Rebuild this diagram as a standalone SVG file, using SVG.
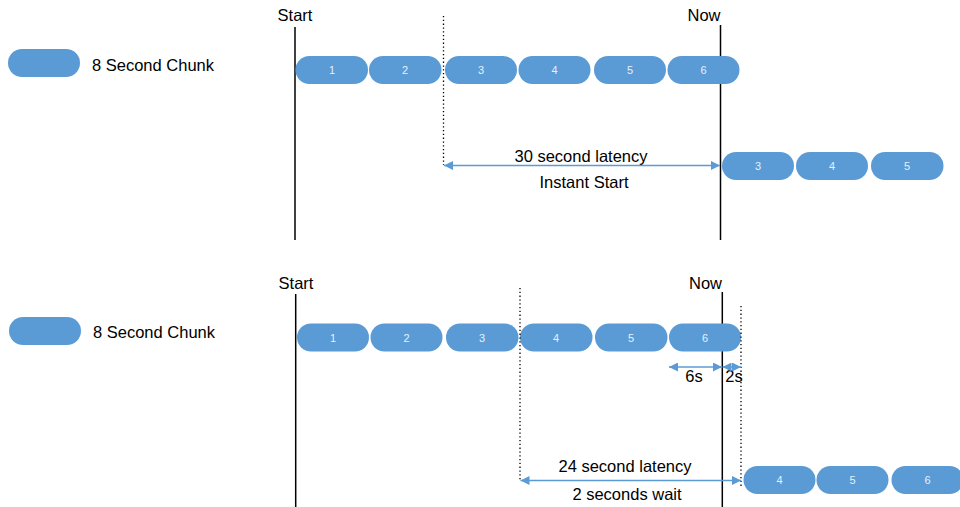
<svg xmlns="http://www.w3.org/2000/svg" width="960" height="507" viewBox="0 0 960 507">
<defs>
<marker id="ah" viewBox="0 0 10 10" refX="10" refY="5" markerWidth="6" markerHeight="6" orient="auto-start-reverse" markerUnits="strokeWidth">
<path d="M0,0 L10,5 L0,10 z" fill="#5B9BD5"/>
</marker>
<style>
.chunk{fill:#5B9BD5}
.num{font-family:"Liberation Sans",Arial,sans-serif;font-size:11px;fill:#E6F0FA;text-anchor:middle}
.lbl{font-family:"Liberation Sans",Arial,sans-serif;font-size:16.5px;fill:#000}
.mid{text-anchor:middle}
.solid{stroke:#000;stroke-width:1.5;fill:none}
.dot{stroke:#000;stroke-width:1.3;stroke-dasharray:1.3,2.5;fill:none}
.arr{stroke:#5B9BD5;stroke-width:1.5;fill:none;marker-start:url(#ah);marker-end:url(#ah)}
</style>
</defs>
<rect width="960" height="507" fill="#fff"/>

<!-- Top scenario -->
<g id="legend1">
<rect class="chunk" x="8" y="49" width="72" height="28" rx="14"/>
<text class="lbl" x="92" y="71">8 Second Chunk</text>
</g>
<g id="start1"><line class="solid" x1="295" y1="27" x2="295" y2="240"/><text class="lbl mid" x="295" y="21">Start</text></g>
<g id="now1"><line class="solid" x1="720.5" y1="25" x2="720.5" y2="240"/><text class="lbl mid" x="704" y="21">Now</text></g>
<g id="t1c1"><rect class="chunk" x="295.5" y="56" width="72.5" height="28" rx="14"/><text class="num" x="332" y="74">1</text></g>
<g id="t1c2"><rect class="chunk" x="369" y="56" width="72.5" height="28" rx="14"/><text class="num" x="405" y="74">2</text></g>
<g id="t1c3"><rect class="chunk" x="445" y="56" width="72" height="28" rx="14"/><text class="num" x="481" y="74">3</text></g>
<g id="t1c4"><rect class="chunk" x="518.5" y="56" width="72" height="28" rx="14"/><text class="num" x="554.5" y="74">4</text></g>
<g id="t1c5"><rect class="chunk" x="594" y="56" width="72" height="28" rx="14"/><text class="num" x="630" y="74">5</text></g>
<g id="t1c6"><rect class="chunk" x="667.5" y="56" width="72" height="28" rx="14"/><text class="num" x="703.5" y="74">6</text></g>
<g id="t1p3"><rect class="chunk" x="722" y="152" width="72" height="28" rx="14"/><text class="num" x="758" y="170">3</text></g>
<g id="t1p4"><rect class="chunk" x="796" y="152" width="72" height="28" rx="14"/><text class="num" x="832" y="170">4</text></g>
<g id="t1p5"><rect class="chunk" x="871" y="152" width="72.5" height="28" rx="14"/><text class="num" x="907" y="170">5</text></g>
<g id="t1labels">
<text class="lbl mid" x="581" y="162">30 second latency</text>
<text class="lbl mid" x="584" y="188">Instant Start</text>
</g>

<!-- Bottom scenario -->
<g id="legend2">
<rect class="chunk" x="9" y="317" width="72" height="28" rx="14"/>
<text class="lbl" x="93" y="338">8 Second Chunk</text>
</g>
<g id="start2"><line class="solid" x1="295.7" y1="294" x2="295.7" y2="507"/><text class="lbl mid" x="296" y="289">Start</text></g>
<g id="now2"><line class="solid" x1="722.3" y1="292" x2="722.3" y2="507"/><text class="lbl mid" x="705.5" y="289">Now</text></g>
<g id="b1c1"><rect class="chunk" x="297" y="323.5" width="72" height="28" rx="14"/><text class="num" x="333" y="341.5">1</text></g>
<g id="b1c2"><rect class="chunk" x="370.5" y="323.5" width="72" height="28" rx="14"/><text class="num" x="406.5" y="341.5">2</text></g>
<g id="b1c3"><rect class="chunk" x="446" y="323.5" width="72.5" height="28" rx="14"/><text class="num" x="482" y="341.5">3</text></g>
<g id="b1c4"><rect class="chunk" x="520" y="323.5" width="72.5" height="28" rx="14"/><text class="num" x="556" y="341.5">4</text></g>
<g id="b1c5"><rect class="chunk" x="595" y="323.5" width="72.5" height="28" rx="14"/><text class="num" x="631" y="341.5">5</text></g>
<g id="b1c6"><rect class="chunk" x="669" y="323.5" width="72" height="28" rx="14"/><text class="num" x="705" y="341.5">6</text></g>
<g id="b1p4"><rect class="chunk" x="743.5" y="466" width="72" height="28" rx="14"/><text class="num" x="779.5" y="484">4</text></g>
<g id="b1p5"><rect class="chunk" x="816.5" y="466" width="72" height="28" rx="14"/><text class="num" x="852.5" y="484">5</text></g>
<g id="b1p6"><rect class="chunk" x="891.5" y="466" width="72" height="28" rx="14"/><text class="num" x="927.5" y="484">6</text></g>
<g id="b1labels">
<text class="lbl mid" x="694" y="382">6s</text>
<text class="lbl mid" x="734" y="382">2s</text>
<text class="lbl mid" x="625" y="472">24 second latency</text>
<text class="lbl mid" x="627" y="500">2 seconds wait</text>
</g>

<g id="connectors">
<line class="dot" x1="443.5" y1="16" x2="443.5" y2="165"/>
<line class="arr" x1="444" y1="165.5" x2="720" y2="165.5"/>
<line class="dot" x1="520" y1="288" x2="520" y2="481"/>
<line class="dot" x1="741" y1="306" x2="741" y2="487"/>
<line class="arr" x1="669" y1="367" x2="722" y2="367"/>
<line class="arr" x1="722.5" y1="367" x2="741" y2="367"/>
<line class="arr" x1="520.5" y1="480.5" x2="741" y2="480.5"/>
</g>
</svg>
